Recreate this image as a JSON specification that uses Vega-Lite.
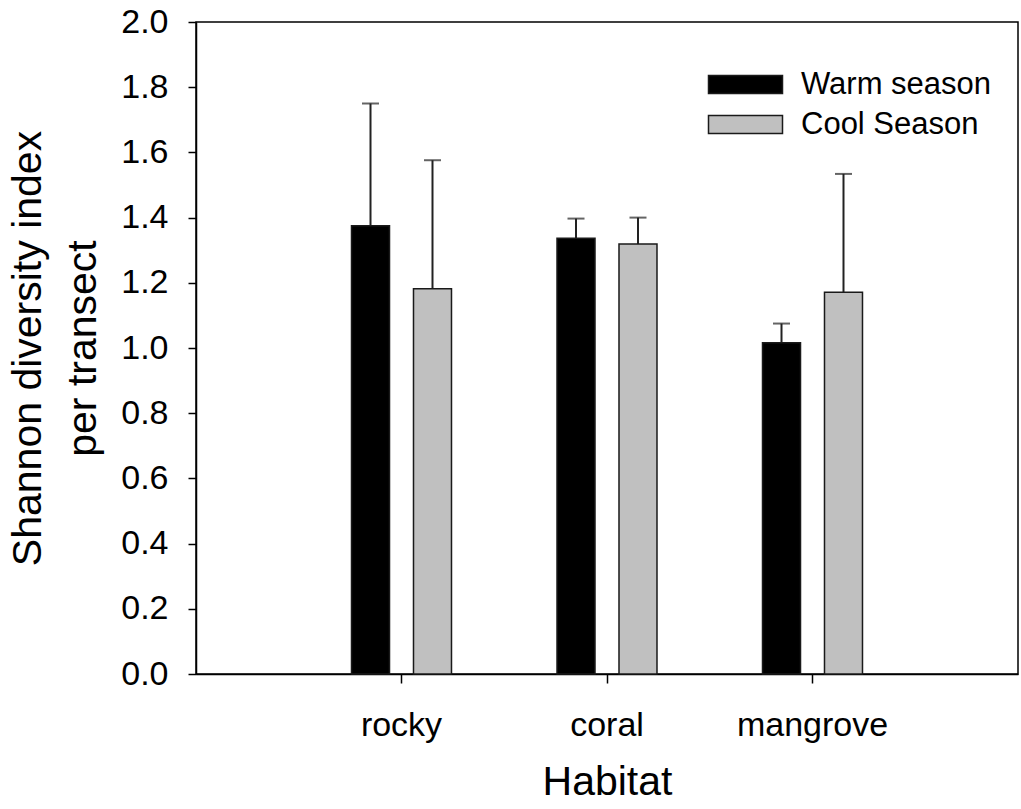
{
  "$schema": "https://vega.github.io/schema/vega-lite/v6.json",
  "autosize": {"type": "none"},
  "padding": {"left": 196, "top": 22, "right": 3, "bottom": 135},
  "width": 822,
  "height": 652,
  "background": "white",
  "config": {
    "font": "Liberation Sans",
    "view": {"stroke": "#000000", "strokeWidth": 1.5},
    "axis": {
      "domainColor": "#000000",
      "domainWidth": 1.5,
      "tickColor": "#000000",
      "tickWidth": 1.5,
      "labelColor": "#000000",
      "titleColor": "#000000",
      "titleFontWeight": "normal",
      "grid": false
    }
  },
  "data": {
    "values": [
      {"habitat": "rocky", "season": "Warm season", "mean": 1.375, "upper": 1.75},
      {"habitat": "rocky", "season": "Cool Season", "mean": 1.182, "upper": 1.576},
      {"habitat": "coral", "season": "Warm season", "mean": 1.337, "upper": 1.397},
      {"habitat": "coral", "season": "Cool Season", "mean": 1.319, "upper": 1.4},
      {"habitat": "mangrove", "season": "Warm season", "mean": 1.016, "upper": 1.075},
      {"habitat": "mangrove", "season": "Cool Season", "mean": 1.171, "upper": 1.534}
    ]
  },
  "encoding": {
    "x": {
      "field": "habitat",
      "type": "nominal",
      "sort": ["rocky", "coral", "mangrove"],
      "scale": {"paddingInner": 0, "paddingOuter": 0.5},
      "axis": {
        "title": "Habitat",
        "labelAngle": 0,
        "labelFontSize": 34,
        "titleFontSize": 41,
        "tickSize": 9,
        "labelPadding": 25,
        "titlePadding": 20
      }
    },
    "xOffset": {
      "field": "season",
      "type": "nominal",
      "sort": ["Warm season", "Cool Season"],
      "scale": {"paddingInner": 0.387, "paddingOuter": 0.851}
    }
  },
  "layer": [
    {
      "mark": {"type": "rule", "color": "#222222", "strokeWidth": 2},
      "encoding": {
        "y": {"field": "mean", "type": "quantitative"},
        "y2": {"field": "upper"}
      }
    },
    {
      "mark": {"type": "tick", "color": "#222222", "size": 17, "thickness": 2, "orient": "horizontal"},
      "encoding": {
        "y": {"field": "upper", "type": "quantitative"}
      }
    },
    {
      "mark": {"type": "bar", "stroke": "#1a1a1a", "strokeWidth": 1.5},
      "encoding": {
        "y": {
          "field": "mean",
          "type": "quantitative",
          "scale": {"domain": [0, 2], "nice": false, "zero": true},
          "axis": {
            "title": ["Shannon diversity index", "per transect"],
            "values": [0, 0.2, 0.4, 0.6, 0.8, 1.0, 1.2, 1.4, 1.6, 1.8, 2.0],
            "format": ".1f",
            "labelFontSize": 34,
            "titleFontSize": 41,
            "titleLineHeight": 55,
            "tickSize": 8,
            "labelPadding": 20,
            "titlePadding": 16
          }
        },
        "color": {
          "field": "season",
          "type": "nominal",
          "sort": ["Warm season", "Cool Season"],
          "scale": {"domain": ["Warm season", "Cool Season"], "range": ["#000000", "#c0c0c0"]},
          "legend": {
            "title": null,
            "orient": "none",
            "legendX": 530,
            "legendY": 43,
            "padding": 0,
            "symbolType": "M-2,-0.486H2V0.486H-2Z",
            "symbolSize": 1369,
            "symbolStrokeColor": "#1a1a1a",
            "symbolStrokeWidth": 1.5,
            "symbolOpacity": 1,
            "labelFontSize": 31,
            "labelLimit": 0,
            "labelColor": "#000000",
            "labelOffset": 36,
            "rowPadding": 5
          }
        }
      }
    }
  ]
}
